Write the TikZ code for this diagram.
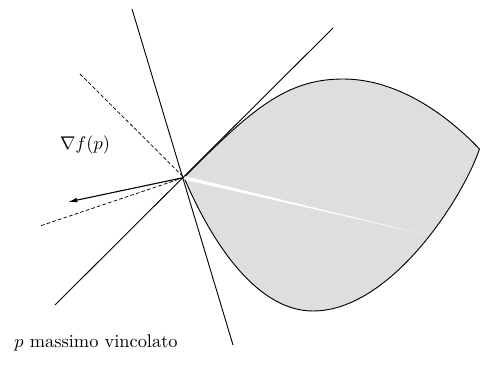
\documentclass[tikz,border=0pt]{standalone}
\usetikzlibrary{arrows.meta}
\begin{document}
\begin{tikzpicture}[x=0.544pt,y=-0.544pt,
  thinline/.style={line width=0.5pt},
  dashline/.style={line width=0.4pt,dash pattern=on 2pt off 1.2pt},
  region/.style={fill=black!13,draw=black,line width=0.5pt}]
\useasboundingbox (0,0) rectangle (480,367);
\coordinate (P) at (184,177.5);
\coordinate (T) at (479.5,149);
\coordinate (Top) at (343,79);
\coordinate (Bot) at (313,311);
% region
\draw[region] (P) .. controls (250,111) and (285,79) .. (Top)
  .. controls (400,79) and (450,118) .. (T)
  .. controls (462,200) and (390,311) .. (Bot)
  .. controls (260,311) and (215,250) .. (P) -- cycle;
% white fading line
\fill[white] (184,176) -- (425,234.5) -- (184,179.5) -- cycle;
% tangent lines
\coordinate (L1a) at (132,9);
\coordinate (L1b) at (233,345);
\coordinate (L2a) at (55,305);
\coordinate (L2b) at (333,28);
\draw[thinline] (L1a) -- (L1b);
\draw[thinline] (L2a) -- (L2b);
% dashed lines
\coordinate (D1) at (80,74);
\coordinate (D2) at (40,226);
\draw[dashline] (D1) -- (P);
\draw[dashline] (P) -- (D2);
% gradient arrow
\coordinate (G) at (68,202);
\draw[line width=0.6pt,-{Latex[length=5pt,width=2.6pt]}] (P) -- (G);
\node (grad) at (85,145) {$\nabla f(p)$};
\node[anchor=west] (cap) at (8,343) {$p$ massimo vincolato};
\end{tikzpicture}
\end{document}
